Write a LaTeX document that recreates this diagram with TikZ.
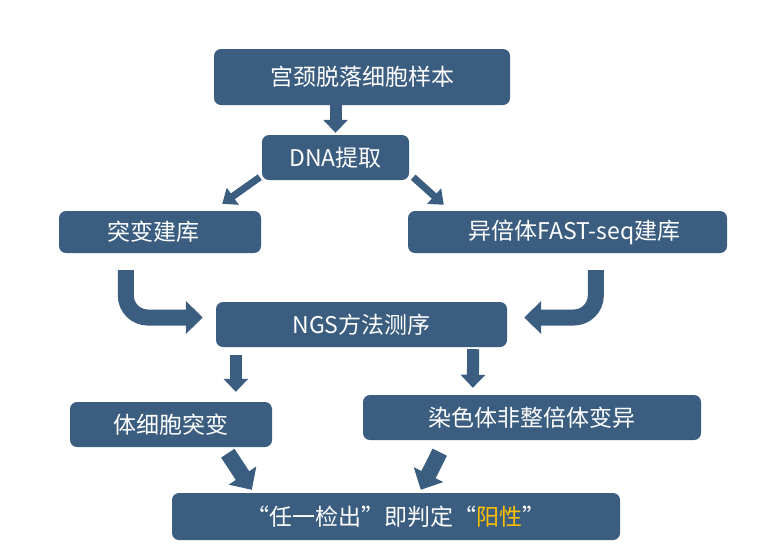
\documentclass[tikz,border=0pt]{standalone}
\usepackage{fontspec}
\setmainfont{Noto Sans CJK SC}
\usetikzlibrary{arrows.meta,calc}
\definecolor{boxblue}{HTML}{3A5D80}
\definecolor{gold}{HTML}{FFC000}
\tikzset{
  box/.style={fill=boxblue, draw=none, rounded corners=7pt, text=white,
    font=\fontsize{23}{27}\selectfont, inner sep=0pt, anchor=center},
  thinarrow/.style={draw=boxblue, line width=7pt, -{Triangle[width=20pt,length=13pt]}},
  midarrow/.style={draw=boxblue, line width=12pt, -{Triangle[width=24pt,length=13pt]}},
  bigarrow/.style={draw=boxblue, line width=16pt, -{Triangle[width=32pt,length=17pt]}},
  curvearrow/.style={draw=boxblue, line width=16pt, rounded corners=22pt, -{Triangle[width=32pt,length=17pt]}},
}
\begin{document}
\begin{tikzpicture}[x=1pt,y=-1pt]
\useasboundingbox (0,0) rectangle (781,550);
\node[box, minimum width=296pt, minimum height=56pt] (n1) at (362,77) {宫颈脱落细胞样本};
\node[box, minimum width=147pt, minimum height=45pt] (n2) at (335.5,157.5) {DNA提取};
\node[box, minimum width=202pt, minimum height=42pt] (n3) at (160,232) {\hspace*{-14pt}突变建库};
\node[box, minimum width=319pt, minimum height=42pt] (n4) at (567.5,232) {\hspace*{14pt}异倍体FAST-seq建库};
\node[box, minimum width=291pt, minimum height=45pt] (n5) at (361.5,324.5) {NGS方法测序};
\node[box, minimum width=202pt, minimum height=45pt] (n6) at (171,424.5) {体细胞突变};
\node[box, minimum width=338pt, minimum height=45pt] (n7) at (532,417.5) {染色体非整倍体变异};
\node[box, minimum width=448pt, minimum height=47pt] (n8) at (396,516.5) {“任一检出”即判定“\textcolor{gold}{阳性}”};

% n1 -> n2
\draw[midarrow] (n2.north |- n1.south) -- ($(n2.north)+(0,-2)$);
% n2 -> n3, n2 -> n4
\draw[thinarrow] ($(n2.south west)+(-2,-3)$) -- ($(n3.north east)+(-39,-7)$);
\draw[thinarrow] ($(n2.south east)+(4,-3)$) -- ($(n4.north west)+(36,-6)$);
% n3 -> n5, n4 -> n5 (curved)
\coordinate (c3) at ($(n3.south west)+(67,17)$);
\coordinate (c4) at ($(n4.south west)+(188,17)$);
\draw[curvearrow] (c3) |- ($(n5.west)+(-13,-7)$);
\draw[curvearrow] (c4) |- ($(n5.east)+(17,-7)$);
% n5 -> n6, n5 -> n7
\draw[midarrow] ($(n5.south west)+(20,8)$) -- ($(n6.north west)+(166,-10)$);
\draw[midarrow] ($(n5.south east)+(-34,2)$) -- ($(n7.north west)+(110,-7)$);
% n6 -> n8, n7 -> n8
\draw[bigarrow] ($(n6.south west)+(158,6)$) -- ($(n8.north west)+(80,-3)$);
\draw[bigarrow] ($(n7.south west)+(77,12)$) -- ($(n8.north west)+(249,-3)$);
\end{tikzpicture}
\end{document}
